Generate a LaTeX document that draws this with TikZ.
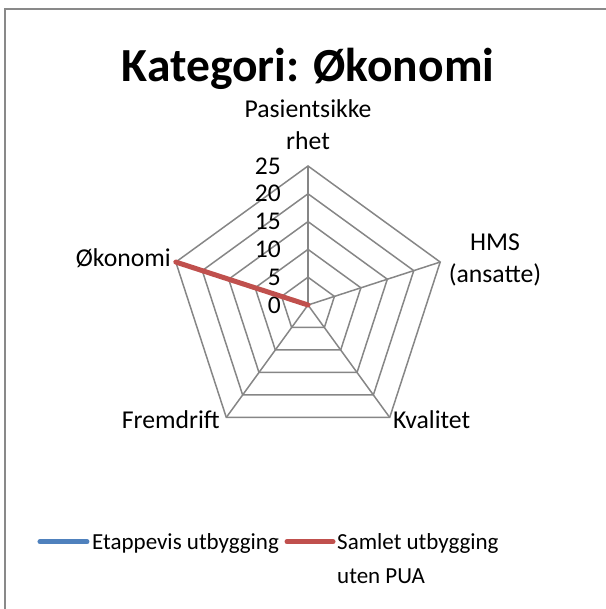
\documentclass[tikz,border=0pt]{standalone}
\usepackage{fontspec}
\setmainfont{Carlito}
\definecolor{gridgray}{HTML}{868686}
\definecolor{framegray}{HTML}{898989}
\definecolor{serieblue}{HTML}{4F81BD}
\definecolor{seriered}{HTML}{C0504D}
\begin{document}
\begin{tikzpicture}[x=1pt, y=1pt,
    grid/.style={gridgray, line width=1.5pt, line join=miter},
    series/.style={line width=5pt, line cap=round},
    lbl/.style={inner sep=0pt, font=\fontsize{25.7}{32.7}\selectfont},
    leg/.style={inner sep=0pt, font=\fontsize{23}{34}\selectfont},
    tick/.style={inner sep=0pt, anchor=east, font=\fontsize{25.5}{28}\selectfont}]
        \useasboundingbox (-308, -304) rectangle (297, 305);
        % frame
        \draw [framegray, line width=2pt] (-302.5, -310) -- (-302.5, 295.5) -- (300, 295.5);
        % title
        \node (title) [inner sep=0pt, anchor=base, font=\bfseries\fontsize{47.5}{50}\selectfont] at (0, 223) {Kategori: Økonomi};
        % rings
        \draw [grid] (90:27.8) -- (18:27.8) -- (-54:27.8) -- (-126:27.8) -- (162:27.8) -- cycle;
        \draw [grid] (90:55.6) -- (18:55.6) -- (-54:55.6) -- (-126:55.6) -- (162:55.6) -- cycle;
        \draw [grid] (90:83.4) -- (18:83.4) -- (-54:83.4) -- (-126:83.4) -- (162:83.4) -- cycle;
        \draw [grid] (90:111.2) -- (18:111.2) -- (-54:111.2) -- (-126:111.2) -- (162:111.2) -- cycle;
        \draw [grid] (90:139) -- (18:139) -- (-54:139) -- (-126:139) -- (162:139) -- cycle;
        % spokes
        \coordinate (center) at (0, 0);
        \coordinate (vPas) at (90:139);
        \coordinate (vHms) at (18:139);
        \coordinate (vKval) at (-54:139);
        \coordinate (vFrem) at (-126:139);
        \coordinate (vOko) at (162:139);
        \draw [grid] (center) -- (vPas);
        \draw [grid] (center) -- (vHms);
        \draw [grid] (center) -- (vKval);
        \draw [grid] (center) -- (vFrem);
        \draw [grid] (center) -- (vOko);
        % scale
        \node (t0) [tick] at (-27, 0) {0};
        \node (t5) [tick] at (-27, 27.8) {5};
        \node (t10) [tick] at (-27, 55.6) {10};
        \node (t15) [tick] at (-27, 83.4) {15};
        \node (t20) [tick] at (-27, 111.2) {20};
        \node (t25) [tick] at (-27, 139) {25};
        % axis labels
        \node (lPas) [lbl, anchor=base, align=center] at (0, 155) {Pasientsikke\\rhet};
        \node (lHms) [lbl, anchor=base, align=center] at (187, 22) {HMS\\(ansatte)};
        \node (lKval) [lbl, anchor=base west] at (85, -123) {Kvalitet};
        \node (lFrem) [lbl, anchor=base east] at (-88, -123) {Fremdrift};
        \node (lOko) [lbl, anchor=base east] at (-137, 38) {Økonomi};
        % data
        \draw [series, seriered] (center) -- (vOko);
        % legend
        \coordinate (kBlueA) at (-268, -236.7);
        \coordinate (kBlueB) at (-221, -236.7);
        \coordinate (kRedA) at (-21, -236.7);
        \coordinate (kRedB) at (25, -236.7);
        \draw [series, serieblue] (kBlueA) -- (kBlueB);
        \draw [series, seriered] (kRedA) -- (kRedB);
        \node (eEtap) [leg, anchor=base west] at (-216, -244) {Etappevis utbygging};
        \node (eSaml) [leg, anchor=base west, align=left] at (29, -278) {Samlet utbygging\\uten PUA};
\end{tikzpicture}
\end{document}
